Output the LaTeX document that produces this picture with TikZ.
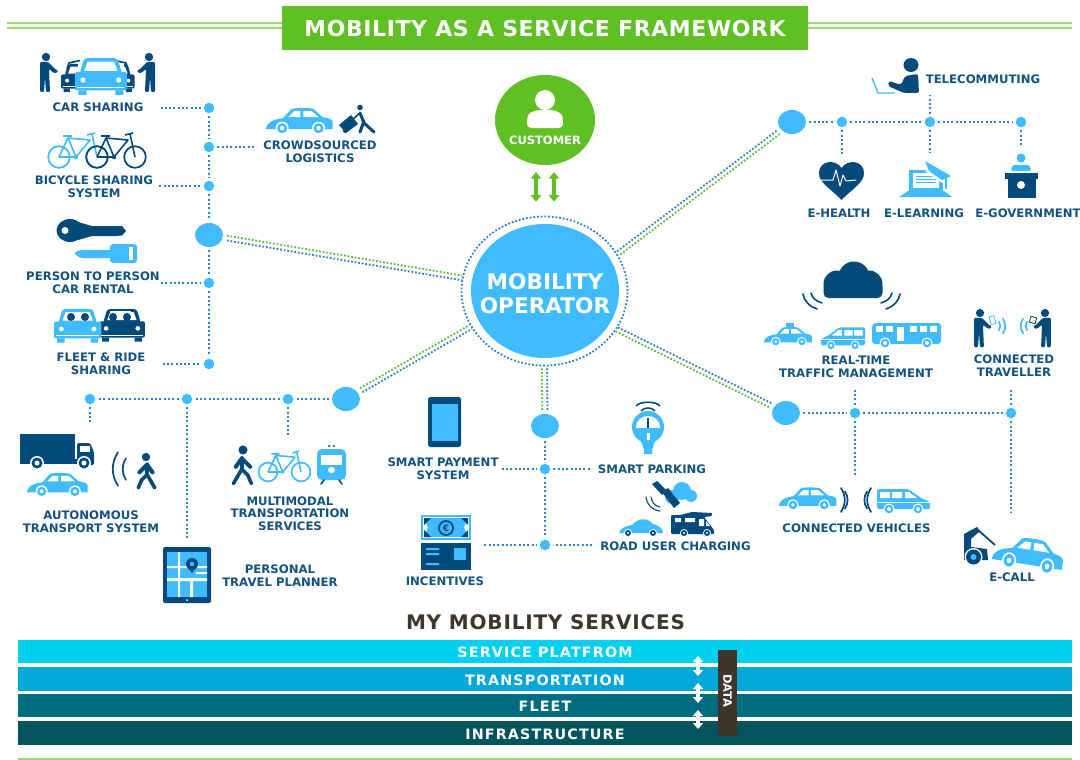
\documentclass[tikz,border=0pt]{standalone}
\usepackage{fontspec}
\setmainfont{DejaVu Sans}
\newfontfamily\barfont[LetterSpace=8]{DejaVu Sans}
\newfontfamily\mmsfont[LetterSpace=4]{DejaVu Sans}
\newfontfamily\titlefont[LetterSpace=3]{DejaVu Sans}
\usetikzlibrary{shapes.geometric,arrows.meta,calc}
\definecolor{lb}{HTML}{40BBFF}
\definecolor{navy}{HTML}{044A7A}
\definecolor{labc}{HTML}{125380}
\definecolor{gr}{HTML}{5FBF23}
\definecolor{grl}{HTML}{98D97A}
\definecolor{dotb}{HTML}{2A86C6}
\definecolor{dotg}{HTML}{5CC23A}
\definecolor{brn}{HTML}{3F352B}
\tikzset{
  lab/.style={font=\fontsize{11.7}{12.7}\selectfont\bfseries,text=labc,align=center,inner sep=0pt},
  hubn/.style={ellipse,fill=lb,minimum width=28pt,minimum height=24pt,inner sep=0pt},
  dotn/.style={circle,fill=lb,minimum size=10.5pt,inner sep=0pt},
  dott/.style={draw=dotb,line width=2pt,dash pattern=on 2pt off 2.3pt,shorten <=3pt,shorten >=3pt},
  spokeb/.style={draw=dotb,line width=1.8pt,dash pattern=on 1.8pt off 1.8pt,shorten <=4pt},
  spokeg/.style={draw=dotg,line width=1.8pt,dash pattern=on 1.8pt off 1.8pt,shorten <=4pt},
  barn/.style={minimum width=1054pt,inner sep=0pt,text=white,text height=12.5pt,text depth=0pt,font=\fontsize{14.3}{15}\barfont\bfseries},
  garrow/.style={draw=gr,line width=3.8pt,{Triangle[width=10.5pt,length=6.5pt]}-{Triangle[width=10.5pt,length=6.5pt]}},
  warrow/.style={draw=white,line width=3.6pt,{Triangle[width=10pt,length=6pt]}-{Triangle[width=10pt,length=6pt]}},
  pics/sedan/.style={code={
    \fill[#1] (0,20) .. controls (1,14) and (8,11) .. (17,10) -- (25,1) .. controls (30,-0.5) and (42,-0.5) .. (47,1) -- (56,9) .. controls (62,10) and (66,11) .. (66,14) -- (66,21) -- (0,21) -- cycle;
    \fill[white] (22,9) -- (28,3) -- (34,3) -- (34,9) -- cycle (37,3) -- (45,3) -- (52,9) -- (37,9) -- cycle;
    \foreach \wx in {16,52}{\fill[white] (\wx,20) circle (6.5); \fill[#1] (\wx,20) circle (5); \fill[white] (\wx,20) circle (2.2);}
  }},
  pics/van/.style={code={
    \fill[#1,rounded corners=1.5] (0,21) -- (0,1) -- (31,1) -- (44,10) -- (53,14) -- (53,21) -- cycle;
    \fill[white] (3,4) rectangle (13,10) (15,4) rectangle (25,10);
    \fill[white] (28,4) -- (32,4) -- (40,10) -- (28,10) -- cycle;
    \fill[white] (0,14) rectangle (53,14.8);
    \foreach \wx in {12,41}{\fill[white] (\wx,21) circle (5.5); \fill[#1] (\wx,21) circle (4.3); \fill[white] (\wx,21) circle (2);}
  }},
  pics/bus/.style={code={
    \fill[#1,rounded corners=3] (0,21) -- (0,2) -- (3,0) -- (69,0) -- (69,21) -- cycle;
    \foreach \wx in {4,14,38,48,58}{\fill[white] (\wx,3) rectangle +(7,6);}
    \fill[white] (25,4) rectangle (32,18);
    \foreach \wx in {13,55}{\fill[white] (\wx,20) circle (5.5); \fill[#1] (\wx,20) circle (4.3); \fill[white] (\wx,20) circle (2);}
  }},
  pics/frontcar/.style={code={
    \fill[#1,rounded corners=2] (0,13) rectangle (45,29);
    \fill[#1,rounded corners=3] (4,15) -- (8,1) -- (37,1) -- (41,15) -- cycle;
    \fill[white] (8,12) -- (11,4) -- (34,4) -- (37,12) -- cycle;
    \fill[white] (7,20) circle (2.3) (38,20) circle (2.3);
    \fill[white] (2,26) rectangle (43,26.8);
    \fill[#1] (3,29) rectangle (10,33) (35,29) rectangle (42,33);
  }},
  pics/stander/.style={code={
    \fill[navy] (0,0) circle (4.2);
    \fill[navy,rounded corners=1.2] (-6,5) -- (2,5) -- (10,13) -- (12,13) -- (11,16) -- (8,16) -- (3,12) -- (4,35) -- (0,35) -- (-1,20) -- (-2,35) -- (-6,35) -- cycle;
  }},
  pics/walker/.style={code={
    \fill[#1] (0,0) circle (3.8);
    \draw[#1,line width=4pt,line cap=round,line join=round] (-6,14) -- (-1,7) -- (6,14);
    \draw[#1,line width=4.6pt,line cap=round,line join=round] (-1,7) -- (-1,16);
    \draw[#1,line width=3.6pt,line cap=round,line join=round] (-8,28) -- (-1,16) -- (4,21) -- (7,28);
  }},
  pics/bike/.style={code={
    \draw[#1,line width=1.7pt] (0,0) circle (10.8) (38,0) circle (10.8);
    \draw[#1,line width=1.6pt,line join=round] (0,0) -- (17,0) -- (9,-19) -- (0,0) (9,-19) -- (31,-17) -- (17,0) (33,-23) -- (38,0) (4,-21) -- (13,-21) (28,-22) -- (36,-24);
    \fill[#1] (17,0) circle (2.2);
  }},
  pics/paren/.style={code={
    \draw[#1,line width=1.7pt,line cap=round] (0,-12) .. controls (5,-4) and (5,4) .. (0,12);
  }},
  pics/cloud/.style={code={
    \fill[#1] (14,22) circle (13.5) (31,15) circle (15.5) (46,22) circle (13.5);
    \fill[#1,rounded corners=5] (0.5,20) rectangle (59.5,36);
  }},
}
\begin{document}
\begin{tikzpicture}[x=1pt,y=-1pt]
\useasboundingbox (0,0) rectangle (1080,760);
\fill[white] (0,0) rectangle (1080,760);

%%% header
\draw[grl,line width=2pt] (7,23) -- (1072,23) (7,28.5) -- (1072,28.5);
\node[fill=gr,minimum width=526pt,minimum height=44pt,inner sep=0pt,text=white,text height=17.8pt,text depth=0pt,font=\fontsize{21.9}{24}\titlefont\bfseries] (title) at (545,28) {MOBILITY AS A SERVICE FRAMEWORK};
\fill[grl] (18,758) rectangle (1072,760);

%%% central nodes
\node[ellipse,fill=gr,minimum width=100pt,minimum height=90pt,inner sep=0pt] (cust) at (545,120) {};
\node[inner sep=0pt,text=white,font=\fontsize{11.5}{12}\selectfont\bfseries] (custl) at (545,140) {CUSTOMER};
\fill[white] (545,100) ellipse (10 and 10);
\fill[white,rounded corners=4] (527,128) -- (527,121) .. controls (528,113) and (534,110) .. (545,110) .. controls (556,110) and (562,113) .. (563,121) -- (563,128) -- cycle;
\node[ellipse,draw=dotb,line width=1.8pt,dash pattern=on 1.8pt off 1.9pt,minimum width=166pt,minimum height=149pt,inner sep=0pt] (ring) at (544.5,291) {};
\node[ellipse,fill=lb,minimum width=148pt,minimum height=134pt,inner sep=0pt] (op) at (545,291) {};
\node[inner sep=0pt,text=white,font=\fontsize{21.6}{24}\selectfont\bfseries,align=center] (opl) at (545,293.5) {MOBILITY\\OPERATOR};
\draw[garrow,shorten <=7pt,shorten >=14pt] ([xshift=-9pt]cust.south) -- ([xshift=-8.5pt]ring.north);
\draw[garrow,shorten <=7pt,shorten >=14pt] ([xshift=9pt]cust.south) -- ([xshift=9.5pt]ring.north);

%%% hubs and dots
\node[hubn] (hL) at (209,235) {};
\node[hubn] (hT) at (792,122) {};
\node[hubn] (hR) at (786,413) {};
\node[hubn] (hB) at (545,426) {};
\node[hubn] (hD) at (346,399) {};
\foreach \nm/\px/\py in {a1/209/108,a2/209/147,a3/209/186,a4/209/283,a5/209/364,
  t1/842/122,t2/930/122,t3/1021/122,r1/855/413,r2/1011/413,
  d1/288/399,d2/187/399,d3/90/399,b1/545/469,b2/545/545}
  {\node[dotn] (\nm) at (\px,\py) {};}

%%% spokes
\draw[spokeg,transform canvas={yshift=2.4pt}] (hL) -- (ring.171);
\draw[spokeb,transform canvas={yshift=-2.4pt}] (hL) -- (ring.171);
\draw[spokeb,transform canvas={xshift=-1.6pt,yshift=1.6pt}] (hT) -- (ring.27);
\draw[spokeg,transform canvas={xshift=1.6pt,yshift=-1.6pt}] (hT) -- (ring.27);
\draw[spokeb,transform canvas={xshift=1.2pt,yshift=2pt}] (hR) -- (ring.-28);
\draw[spokeg,transform canvas={xshift=-1.2pt,yshift=-2pt}] (hR) -- (ring.-28);
\draw[spokeg,transform canvas={xshift=-1.2pt,yshift=2pt}] (hD) -- (ring.206.6);
\draw[spokeb,transform canvas={xshift=1.2pt,yshift=-2pt}] (hD) -- (ring.206.6);
\draw[spokeg,transform canvas={xshift=-2.6pt}] (hB) -- (ring.south);
\draw[spokeb,transform canvas={xshift=2.6pt}] (hB) -- (ring.south);

%%% labels
\node[lab] (lCar) at (98,107) {CAR SHARING};
\node[lab] (lBike) at (94,186.5) {BICYCLE SHARING\\SYSTEM};
\node[lab] (lP2P) at (93,282.5) {PERSON TO PERSON\\CAR RENTAL};
\node[lab] (lFleet) at (101,363.5) {FLEET \& RIDE\\SHARING};
\node[lab] (lCrowd) at (320,151.5) {CROWDSOURCED\\LOGISTICS};
\node[lab] (lAuto) at (91,522) {AUTONOMOUS\\TRANSPORT SYSTEM};
\node[lab] (lMulti) at (290,513.5) {MULTIMODAL\\TRANSPORTATION\\SERVICES};
\node[lab] (lPlan) at (280,576) {PERSONAL\\TRAVEL PLANNER};
\node[lab] (lPay) at (443,468.5) {SMART PAYMENT\\SYSTEM};
\node[lab] (lPark) at (652,469) {SMART PARKING};
\node[lab] (lRoad) at (675.5,546) {ROAD USER CHARGING};
\node[lab] (lInc) at (445,581) {INCENTIVES};
\node[lab] (lConn) at (856.5,528) {CONNECTED VEHICLES};
\node[lab] (lCall) at (1012,577) {E-CALL};
\node[lab] (lReal) at (856,366.5) {REAL-TIME\\TRAFFIC MANAGEMENT};
\node[lab] (lTrav) at (1014,365.5) {CONNECTED\\TRAVELLER};
\node[lab] (lTele) at (983,79) {TELECOMMUTING};
\node[lab] (lHealth) at (839,213) {E-HEALTH};
\node[lab] (lLearn) at (924,213) {E-LEARNING};
\node[lab] (lGov) at (1028,213) {E-GOVERNMENT};

%%% free ends
\coordinate (eTele) at (930,92);
\coordinate (eHealth) at (842,158);
\coordinate (eLearn) at (930,155);
\coordinate (eGov) at (1021,148);
\coordinate (eReal) at (855,385);
\coordinate (eTrav) at (1011,385);
\coordinate (eConn) at (855,478);
\coordinate (eCall) at (1011,516);
\coordinate (eAuto) at (90,426);
\coordinate (ePlan) at (187,541);
\coordinate (eMulti) at (288,438);
\coordinate (eCrowd) at (257,147);

%%% dotted connectors
\draw[dott] (a1) -- (a2); \draw[dott] (a2) -- (a3); \draw[dott] (a3) -- (hL); \draw[dott] (hL) -- (a4); \draw[dott] (a4) -- (a5);
\draw[dott,shorten <=17pt] (lCar.east |- a1) -- (a1);
\draw[dott,shorten <=6pt] (lBike.east |- a3) -- (a3);
\draw[dott,shorten <=1pt] (lP2P.east |- a4) -- (a4);
\draw[dott,shorten <=17pt] (lFleet.east |- a5) -- (a5);
\draw[dott] (a2) -- (eCrowd);
\draw[dott] (hT) -- (t1); \draw[dott] (t1) -- (t2); \draw[dott] (t2) -- (t3);
\draw[dott] (t2) -- (eTele); \draw[dott] (t1) -- (eHealth); \draw[dott] (t2) -- (eLearn); \draw[dott] (t3) -- (eGov);
\draw[dott] (hR) -- (r1); \draw[dott] (r1) -- (r2);
\draw[dott] (r1) -- (eReal); \draw[dott] (r1) -- (eConn); \draw[dott] (r2) -- (eTrav); \draw[dott] (r2) -- (eCall);
\draw[dott] (hD) -- (d1); \draw[dott] (d1) -- (d2); \draw[dott] (d2) -- (d3);
\draw[dott] (d3) -- (eAuto); \draw[dott] (d2) -- (ePlan); \draw[dott] (d1) -- (eMulti);
\draw[dott] (hB) -- (b1); \draw[dott] (b1) -- (b2);
\draw[dott,shorten <=3pt] (lPay.east |- b1) -- (b1);
\draw[dott,shorten <=8pt] (lPark.west |- b1) -- (b1);
\draw[dott,shorten <=0pt] (lInc.east |- b2) -- (b2);
\draw[dott,shorten <=8pt] (lRoad.west |- b2) -- (b2);

%%% icons : car sharing
\pic at (46,57) {stander};
\pic[xscale=-1] at (149,57) {stander};
\pic[scale=.88] at (61,63) {frontcar=navy};
\pic[scale=.88] at (95,63) {frontcar=navy};
\fill[white] (78,58) rectangle (124,94);
\draw[navy,line width=1.6pt] (67,69) -- (69,63) -- (80,60.5) (128,69) -- (126,63) -- (115,60.5);
\pic[scale=1.15] at (75,57) {frontcar=lb};
%%% bicycles
\pic at (59,157) {bike=lb};
\pic at (97,157) {bike=navy};
%%% keys
\fill[navy] (70,230.5) ellipse (13.5 and 11.5);
\fill[navy] (78,222) -- (92,226) -- (116,226) -- (116,236) -- (92,236) -- (78,240) -- cycle;
\fill[navy] (115,226) -- (122,226) -- (126,231) -- (122,235.5) -- (115,236) -- cycle;
\fill[white] (65,230.5) circle (3.5);
\fill[lb,rounded corners=3] (110,244) rectangle (137,263);
\fill[lb,rounded corners=2] (74,253) -- (80,250) -- (112,250) -- (112,258) -- (80,258) -- cycle;
\fill[white] (129,247) rectangle (133,260);
%%% fleet
\pic[scale=1.02] at (99,308) {frontcar=navy};
\pic[scale=1.05] at (54,308) {frontcar=lb};
\foreach \hx in {71,85}{\fill[navy] (\hx,317) circle (4); }
\foreach \hx in {113,127}{\fill[navy] (\hx,317) circle (4);}
\fill[white] (110,311) rectangle (131,312);
\fill[navy] (108,322) rectangle (135,324);
%%% crowd
\pic[scale=1.01] at (266,108) {sedan=lb};
\fill[navy] (360,107.5) circle (2.8);
\draw[navy,line width=3pt,line cap=round,line join=round] (360,113) -- (364,123) -- (374,132) (364,121) -- (360,132);
\draw[navy,line width=1.6pt] (360,113) -- (352,120);
\fill[navy] (339,125) -- (351,115) -- (358,124) -- (346,133) -- cycle;
\fill[navy] (345,131) circle (2);
%%% telecommuting
\draw[lb,line width=1.4pt,line join=round] (872,78) -- (878,93) -- (895,93);
\fill[navy] (911,65) ellipse (7.5 and 7);
\fill[navy,rounded corners=2] (905,76) -- (918,74) -- (919,93) -- (904,93) -- (888,86) -- (889,81) -- (901,85) -- cycle;
%%% heart
\fill[navy] (841.5,200) .. controls (830,188) and (819,183) .. (819,173) .. controls (819,160) and (836,159) .. (841.5,168) .. controls (847,159) and (864,160) .. (864,173) .. controls (864,183) and (853,188) .. (841.5,200) -- cycle;
\draw[white,line width=1pt,line join=round] (821,180) -- (833,180) -- (836,170) -- (840,186) -- (843,175) -- (846,181) -- (856,180);
%%% e-learning
\fill[lb] (909,170) rectangle (943,191);
\fill[white] (913,173) rectangle (939,188);
\fill[lb] (916,176) rectangle (934,177.2) (916,179) rectangle (936,180.2) (916,182) rectangle (936,183.2);
\fill[lb] (899,197) -- (908,191) -- (944,191) -- (952,197) -- cycle;
\fill[white] (921,159) -- (954,176) -- (942,183) -- (926,172) -- cycle;
\fill[lb] (925,161) -- (951,176) -- (942,180) -- (929,171) -- cycle;
\draw[lb,line width=1.2pt] (946,178) -- (946,189);
%%% e-gov
\fill[lb] (1021,158) circle (4.5);
\fill[lb,rounded corners=2] (1011,171) -- (1012,165) -- (1030,165) -- (1031,171) -- cycle;
\fill[navy] (1005,173) rectangle (1038,178.5);
\fill[navy] (1008,178) rectangle (1036,197.5);
\fill[white] (1021,185) circle (4);
%%% cloud + cars
\pic at (823,262) {cloud=navy};
\draw[navy,line width=1.6pt,line cap=round] (803,294) .. controls (804,301) and (810,307) .. (817,309);
\draw[navy,line width=1.6pt,line cap=round] (811,293) .. controls (812,298) and (816,301) .. (822,303);
\draw[navy,line width=1.6pt,line cap=round] (900,294) .. controls (899,301) and (893,307) .. (886,309);
\draw[navy,line width=1.6pt,line cap=round] (892,293) .. controls (891,298) and (887,301) .. (881,303);
\pic[scale=.73] at (764,327) {sedan=lb};
\fill[lb] (786,323) rectangle (794,328);
\pic[xscale=-.83,yscale=.9] at (865,326.5) {van=lb};
\pic at (872,323) {bus=lb};
%%% connected traveller
\pic[scale=.98] at (980,313) {stander};
\pic[scale=.98,xscale=-1] at (1045,313) {stander};
\fill[white,draw=lb,line width=.8pt,rotate around={15:(993,320)}] (990,316) rectangle (995,324);
\fill[white,draw=navy,line width=.8pt,rotate around={-15:(1033,320)}] (1030,317) rectangle (1036,323);
\pic[scale=.35] at (999,326) {paren=lb};
\pic[scale=.6] at (1003,326) {paren=lb};
\pic[scale=.35,xscale=-1] at (1027,326) {paren=lb};
\pic[scale=.6,xscale=-1] at (1023,326) {paren=lb};
%%% truck
\fill[navy] (20,434) rectangle (75,459);
\fill[navy] (20,459) rectangle (94,464);
\fill[navy,rounded corners=1.5] (77,443) -- (90,443) -- (94,452) -- (94,465) -- (77,465) -- cycle;
\fill[white] (80,446) rectangle (90,452);
\foreach \wx in {37,84}{\fill[white] (\wx,463) circle (7); \fill[navy] (\wx,463) circle (5.5); \fill[white] (\wx,463) circle (2.5);}
\pic[scale=.92] at (27,473) {sedan=lb};
\pic[xscale=-1.4,yscale=1.4] at (118,469) {paren=navy};
\pic[xscale=-.9,yscale=.9] at (126,469) {paren=navy};
\pic[xscale=-1.1,yscale=1.1] at (146,457) {walker=navy};
%%% multimodal
\pic[scale=1.2] at (243,450) {walker=navy};
\pic[scale=.87] at (268,472) {bike=lb};
\fill[lb,rounded corners=5] (317,449) rectangle (346,480);
\fill[white] (321,455) rectangle (342,465);
\fill[white] (331.5,470) ellipse (3.5 and 3);
\fill[navy] (329,446) circle (1.2) (334,446) circle (1.2);
\draw[navy,line width=1.6pt,line cap=round] (324,480) -- (321,484) (339,480) -- (342,484);
%%% tablet
\fill[navy,rounded corners=2] (163,547) rectangle (211,603);
\fill[lb] (167,552) rectangle (207,597);
\fill[white] (178,552) rectangle (180,597) (167,566) rectangle (207,568) (167,578) rectangle (207,581) (190,580) rectangle (193,597) (196,572) rectangle (207,574);
\fill[navy] (192,564) circle (6);
\fill[navy] (188,567) -- (196,567) -- (192,573) -- cycle;
\fill[lb] (192,564) circle (2.2);
\fill[white] (187,600) circle (1);
%%% phone
\fill[navy,rounded corners=2.5] (428,397) rectangle (461,447);
\fill[lb] (431.5,404) rectangle (458,441);
%%% meter
\draw[navy,line width=1.6pt] (636,406) .. controls (640,401) and (656,401) .. (660,406);
\draw[navy,line width=1.6pt] (641,411) .. controls (644,407) and (652,407) .. (655,411);
\fill[lb] (648,427) circle (16);
\fill[lb] (640,438) -- (656,438) -- (652,450) -- (652,454) -- (644,454) -- (644,450) -- cycle;
\fill[white] (636,428) .. controls (636,412) and (660,412) .. (660,428) -- cycle;
\fill[navy] (647.3,418) rectangle (648.7,428);
\fill[white] (647,433) rectangle (650,440);
%%% satellite and road charging
\fill[lb] (672,497) circle (7) (682,491) circle (9) (691,496) circle (6);
\fill[lb] (668,497) rectangle (694,499);
\fill[navy] (652,484) -- (657,481) -- (667,491) -- (662,495) -- cycle;
\fill[navy] (662,492) -- (668,488) -- (680,503) -- (674,508) -- cycle;
\draw[navy,line width=1.1pt,line cap=round] (651,497) .. controls (652,503) and (655,506) .. (660,507);
\draw[navy,line width=1.1pt,line cap=round] (646,497) .. controls (647,505) and (652,510) .. (660,511);
\fill[lb] (619,533) .. controls (620,528) and (626,526) .. (632,525) .. controls (639,517) and (648,518) .. (653,524) .. controls (660,526) and (663,529) .. (663,533) -- cycle;
\foreach \wx in {628,653}{\fill[white] (\wx,533) circle (4); \fill[navy] (\wx,533) circle (3); \fill[white] (\wx,533) circle (1.2);}
\fill[navy,rounded corners=1] (671,515) -- (680,515) -- (692,512) -- (712,513) -- (712,516) -- (704,517) -- (714,530) -- (714,534) -- (671,534) -- cycle;
\fill[white] (675,518) rectangle (681,522) (685,518) rectangle (695,522) (699,519) rectangle (704,526) (706,521) -- (710,526) -- (706,526) -- cycle;
\foreach \wx in {684,707}{\fill[white] (\wx,533) circle (4); \fill[navy] (\wx,533) circle (3); \fill[white] (\wx,533) circle (1.2);}
%%% incentives
\fill[lb] (421,515) rectangle (471,540);
\fill[white] (423,517) rectangle (469,538);
\fill[lb] (424,518) -- (468,518) -- (464,527.5) -- (468,537) -- (424,537) -- (428,527.5) -- cycle;
\fill[navy] (424,518) -- (431,518) -- (424,525) -- cycle (468,518) -- (461,518) -- (468,525) -- cycle (424,537) -- (431,537) -- (424,530) -- cycle (468,537) -- (461,537) -- (468,530) -- cycle;
\draw[navy,line width=1.8pt] (446,528) circle (7);
\node[inner sep=0pt,text=navy,font=\fontsize{9}{9}\selectfont\bfseries] (euro) at (446,528) {€};
\fill[navy] (421,543) rectangle (471,570);
\fill[lb] (454,548) rectangle (466,560);
\fill[lb] (426,548) rectangle (439,550) (426,553) rectangle (439,555) (426,563) rectangle (439,565);
%%% connected vehicles
\pic[scale=.87] at (779,487.5) {sedan=lb};
\pic[scale=1] at (841,500) {paren=navy};
\pic[scale=.7] at (845,500) {paren=navy};
\pic[xscale=-1] at (871,500) {paren=navy};
\pic[xscale=-.7,yscale=.7] at (867,500) {paren=navy};
\pic[scale=1] at (877,488) {van=lb};
%%% ecall
\fill[navy] (964,534) -- (977,527) -- (980,531) -- (971,539) -- (971,547) -- (987,549) -- (988,560) -- (964,560) -- cycle;
\draw[navy,line width=1.8pt] (978,530) -- (995,545);
\fill[white] (973.5,557) circle (9);
\fill[navy] (973.5,557) circle (7.5);
\fill[lb] (973.5,557) circle (3);
\pic[rotate=-9,xscale=1.07,yscale=1.25] at (996,533) {sedan=lb};

%%% bars
\node[barn,fill={rgb,255:red,0;green,209;blue,240},minimum height=23pt] (bar1) at (545,651.5) {SERVICE PLATFROM};
\node[barn,fill={rgb,255:red,0;green,168;blue,218},minimum height=24pt] (bar2) at (545,679) {TRANSPORTATION};
\node[barn,fill={rgb,255:red,0;green,108;blue,128},minimum height=23pt] (bar3) at (545,705.5) {FLEET};
\node[barn,fill={rgb,255:red,4;green,84;blue,94},minimum height=24pt] (bar4) at (545,733) {INFRASTRUCTURE};
\node[inner sep=0pt,text=brn,font=\fontsize{20}{21}\mmsfont\bfseries] (mms) at (545.5,622) {MY MOBILITY SERVICES};
\node[fill=brn,minimum width=19pt,minimum height=86pt,inner sep=0pt] (data) at (727.5,693) {};
\node[inner sep=0pt,text=white,rotate=-90,font=\fontsize{11.5}{12}\selectfont\bfseries] (datal) at (727.5,691) {DATA};
\coordinate (u1) at (698,656); \coordinate (v1) at (698,676);
\coordinate (u2) at (698,683); \coordinate (v2) at (698,703);
\coordinate (u3) at (698,710); \coordinate (v3) at (698,729);
\draw[warrow] (u1) -- (v1);
\draw[warrow] (u2) -- (v2);
\draw[warrow] (u3) -- (v3);
\end{tikzpicture}
\end{document}
